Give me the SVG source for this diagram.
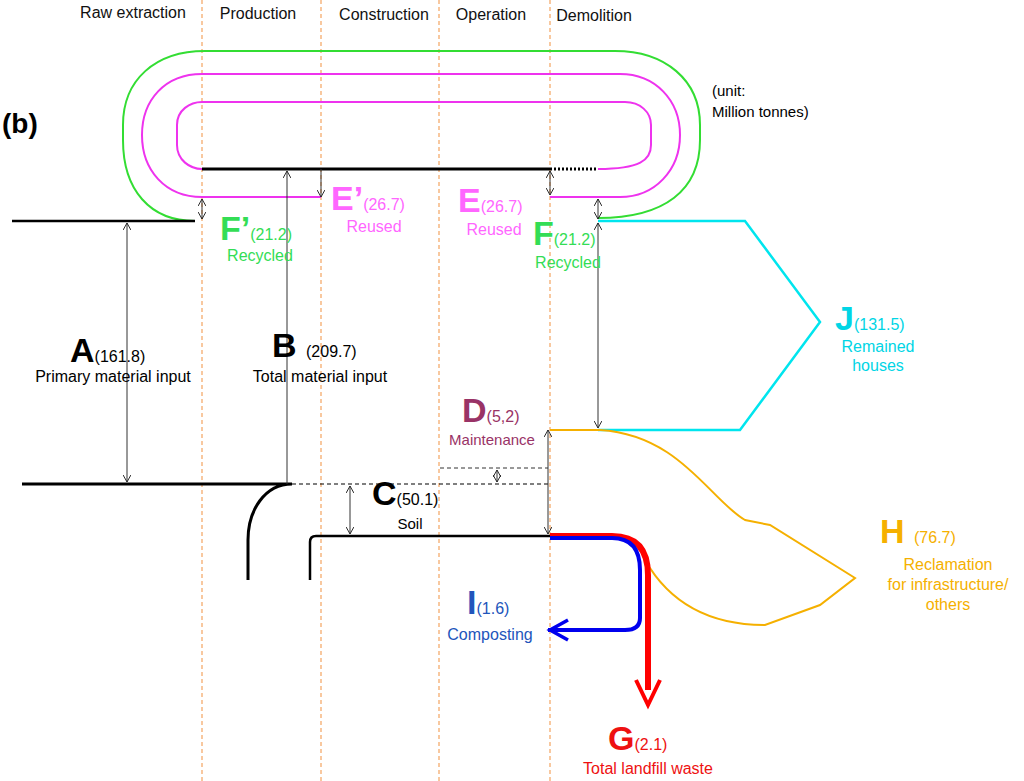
<svg xmlns="http://www.w3.org/2000/svg" width="1024" height="781" viewBox="0 0 1024 781">
<defs>
<marker id="ah" viewBox="0 0 10 10" refX="9" refY="5" markerWidth="8" markerHeight="8" orient="auto-start-reverse" markerUnits="userSpaceOnUse"><path d="M0,0 L9,5 L0,10" fill="none" stroke="#222" stroke-width="1.2"/></marker>
<style>
text{font-family:"Liberation Sans",Arial,sans-serif}
.col{font-size:16px;fill:#111;text-anchor:middle}
.vd{stroke:#f4a460;stroke-width:1.2;stroke-dasharray:4,3}
.dim{stroke:#333;stroke-width:1;fill:none;marker-end:url(#ah)}
.dim2{stroke:#333;stroke-width:1;fill:none;marker-start:url(#ah);marker-end:url(#ah)}
.big{font-size:34px;font-weight:bold}
.sm{font-size:16px;font-weight:normal}
</style>
</defs>
<rect width="1024" height="781" fill="#fff"/>
<g id="columns">
<line class="vd" x1="202" y1="0" x2="202" y2="781"/>
<line class="vd" x1="321" y1="0" x2="321" y2="781"/>
<line class="vd" x1="439" y1="0" x2="439" y2="781"/>
<line class="vd" x1="550" y1="0" x2="550" y2="781"/>
<text class="col" x="133" y="18">Raw extraction</text>
<text class="col" x="258" y="19">Production</text>
<text class="col" x="384" y="20">Construction</text>
<text class="col" x="491" y="20">Operation</text>
<text class="col" x="594" y="21">Demolition</text>
<text x="2" y="133" font-size="28" font-weight="bold">(b)</text>
<text x="712" y="96" font-size="15">(unit:</text>
<text x="712" y="117" font-size="15">Million tonnes)</text>
</g>
<g id="connectors" fill="none">
<path d="M195,221 C150,221 123,190 123,140 L123,125 C123,80 155,51 205,51 L615,51 C665,51 700,80 700,125 L700,140 C700,190 665,218 598,218" stroke="#33dd33" stroke-width="2"/>
<path d="M321,197 L202,197 C165,197 142,170 142,135 C142,100 165,74 202,74 L620,74 C655,74 680,100 680,135 C680,170 655,197 620,197 L550,197" stroke="#ee33ee" stroke-width="2"/>
<path d="M202,169 C190,169 177,160 177,145 L177,125 C177,110 190,102 202,102 L625,102 C640,102 651,112 651,125 L651,145 C651,160 640,169 598,169" stroke="#ee33ee" stroke-width="2"/>
<line x1="202" y1="169" x2="550" y2="169" stroke="#000" stroke-width="3"/>
<line x1="550" y1="169" x2="598" y2="169" stroke="#000" stroke-width="3" stroke-dasharray="2,2"/>
<line x1="12" y1="221" x2="195" y2="221" stroke="#000" stroke-width="2.5"/>
<path d="M22,484 L292,484 C265,484 248,510 248,540 L248,580" stroke="#000" stroke-width="3"/>
<line x1="292" y1="484" x2="550" y2="484" stroke="#000" stroke-width="1.2" stroke-dasharray="4,3"/>
<line x1="440" y1="468" x2="548" y2="468" stroke="#333" stroke-width="1" stroke-dasharray="4,3"/>
<path d="M310,580 L310,542 Q310,536 316,536 L550,536" stroke="#000" stroke-width="2.5"/>
<path d="M598,221 L745,221 L820,322 L740,430 L598,430" stroke="#00e5ee" stroke-width="2.5"/>
<path d="M550,430 L600,430 C680,435 710,500 745,520 L770,525 L855,578 L820,605 L765,625 C700,625 665,595 645,560" stroke="#f5b000" stroke-width="2"/>
<path d="M550,536 L612,536 Q648,536 648,575 L648,690" stroke="#ff0000" stroke-width="6"/>
<path d="M636,680 L648,705 L660,680" stroke="#ff0000" stroke-width="4"/>
<path d="M550,538 L612,538 Q640,538 640,570 L640,618 Q640,630 625,630 L548,630" stroke="#0000ee" stroke-width="4"/>
<path d="M568,620 L550,630 L568,640" stroke="#0000ee" stroke-width="3.5"/>
<line class="dim" x1="321" y1="169" x2="321" y2="197"/>
<line class="dim2" x1="550" y1="171" x2="550" y2="195"/>
<line class="dim2" x1="202" y1="199" x2="202" y2="219"/>
<line class="dim2" x1="598" y1="199" x2="598" y2="219"/>
<line class="dim2" x1="598" y1="223" x2="598" y2="428"/>
<line class="dim" x1="287" y1="484" x2="287" y2="171"/>
<line class="dim2" x1="127" y1="223" x2="127" y2="482"/>
<line class="dim2" x1="497" y1="470" x2="497" y2="482"/>
<line class="dim2" x1="350" y1="486" x2="350" y2="534"/>
<line class="dim2" x1="548" y1="430" x2="548" y2="534"/>
</g>
<g id="A"><text x="70" y="362" class="big">A<tspan class="sm">(161.8)</tspan></text><text x="113" y="382" font-size="16" text-anchor="middle">Primary material input</text></g>
<g id="B"><text x="272" y="357" class="big">B <tspan class="sm">(209.7)</tspan></text><text x="320" y="382" font-size="16" text-anchor="middle">Total material input</text></g>
<g id="C"><text x="372" y="505" class="big">C<tspan class="sm">(50.1)</tspan></text><text x="410" y="529" font-size="15" text-anchor="middle">Soil</text></g>
<g id="D" fill="#993366"><text x="462" y="422" class="big">D<tspan class="sm">(5,2)</tspan></text><text x="492" y="445" font-size="15" text-anchor="middle">Maintenance</text></g>
<g id="Ep" fill="#ff66ff"><text x="331" y="210" class="big">E’<tspan class="sm">(26.7)</tspan></text><text x="374" y="232" font-size="16" text-anchor="middle">Reused</text></g>
<g id="E" fill="#ff66ff"><text x="458" y="212" class="big">E<tspan class="sm">(26.7)</tspan></text><text x="494" y="235" font-size="16" text-anchor="middle">Reused</text></g>
<g id="Fp" fill="#33dd55"><text x="220" y="240" class="big">F’<tspan class="sm">(21.2)</tspan></text><text x="260" y="261" font-size="16" text-anchor="middle">Recycled</text></g>
<g id="F" fill="#33dd55"><text x="533" y="245" class="big">F<tspan class="sm">(21.2)</tspan></text><text x="568" y="268" font-size="16" text-anchor="middle">Recycled</text></g>
<g id="J" fill="#00d5e5"><text x="835" y="330" class="big">J<tspan class="sm">(131.5)</tspan></text><text x="878" y="352" font-size="16" text-anchor="middle">Remained</text><text x="878" y="371" font-size="16" text-anchor="middle">houses</text></g>
<g id="H" fill="#f5b000"><text x="880" y="543" class="big">H <tspan class="sm">(76.7)</tspan></text><text x="948" y="570" font-size="16" text-anchor="middle">Reclamation</text><text x="948" y="590" font-size="16" text-anchor="middle">for infrastructure/</text><text x="948" y="610" font-size="16" text-anchor="middle">others</text></g>
<g id="I" fill="#2255bb"><text x="467" y="614" class="big">I<tspan class="sm">(1.6)</tspan></text><text x="490" y="640" font-size="16" text-anchor="middle">Composting</text></g>
<g id="G" fill="#ee1111"><text x="608" y="750" class="big">G<tspan class="sm">(2.1)</tspan></text><text x="648" y="774" font-size="16" text-anchor="middle">Total landfill waste</text></g>
</svg>
